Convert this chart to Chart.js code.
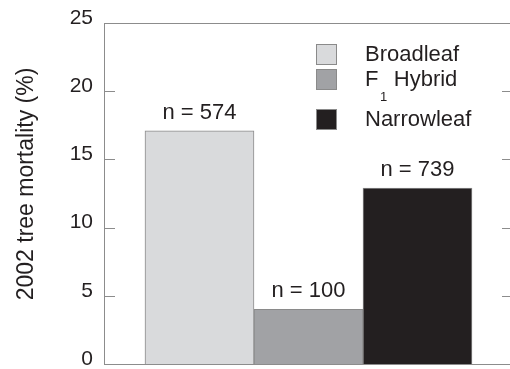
<!DOCTYPE html>
<html>
<head>
<meta charset="utf-8">
<script src="https://cdn.jsdelivr.net/npm/chart.js@4/dist/chart.umd.min.js"></script>
<style>
  html, body { margin: 0; padding: 0; background: #fff; overflow: hidden; }
  #wrap { width: 514px; height: 369px; position: relative; }
</style>
</head>
<body>
<div id="wrap"><canvas id="c"></canvas></div>
<script>
// Tree mortality in 2002 by cottonwood cross type
const categories = ['Broadleaf', 'F₁ Hybrid', 'Narrowleaf'];
const mortality = [17.1, 4.0, 12.9];          // percent of trees dead
const sampleSizes = [574, 100, 739];          // trees surveyed per type
const barColors = ['#d9dadc', '#a1a2a5', '#231f20'];
const yTickValues = [0, 5, 10, 15, 20, 25];
const yAxisTitle = '2002 tree mortality (%)';

const FONT = '"Liberation Sans", Arial, Helvetica, sans-serif';
const INK = '#231f20';
const FRAME = '#8c8c8c';

// One dataset per type so each gets its own legend row; bars share a linear x axis
const datasets = categories.map((name, i) => ({
  label: name,
  data: [{ x: i + 1, y: mortality[i] }],
  backgroundColor: barColors[i],
  borderColor: '#8a8a8a',
  borderWidth: 1,
  barPercentage: 1,
  categoryPercentage: 1,
  grouped: false
}));

// Draws a label, rendering a "₁" as a lowered small digit
function drawRichText(ctx, text, x, y) {
  const parts = text.split('₁');
  ctx.font = `22px ${FONT}`;
  ctx.textBaseline = 'middle';
  ctx.textAlign = 'left';
  ctx.fillText(parts[0], x, y);
  if (parts.length > 1) {
    const w = ctx.measureText(parts[0]).width;
    ctx.font = `13px ${FONT}`;
    ctx.fillText('1', x + w + 1.5, y + 17);
    const sw = ctx.measureText('1').width;
    ctx.font = `22px ${FONT}`;
    ctx.fillText(parts[1], x + w + sw + 2, y);
  }
}

// Box frame with inward tick marks on both vertical sides, plus the rotated axis title
const framePlugin = {
  id: 'frame',
  afterDatasetsDraw(chart) {
    const { ctx, chartArea: a } = chart;
    const yScale = chart.scales.y;
    ctx.save();
    ctx.strokeStyle = FRAME;
    ctx.lineWidth = 1;
    ctx.beginPath();
    ctx.rect(Math.round(a.left) + 0.5, Math.round(a.top) + 0.5,
             Math.round(a.right - a.left), Math.round(a.bottom - a.top));
    yScale.ticks.forEach(t => {
      const py = Math.round(yScale.getPixelForValue(t.value)) + 0.5;
      ctx.moveTo(a.left, py); ctx.lineTo(a.left + 11, py);
      ctx.moveTo(a.right - 10, py); ctx.lineTo(a.right, py);
    });
    ctx.stroke();

    ctx.translate(27, (a.top + a.bottom) / 2 - 9.5);
    ctx.rotate(-Math.PI / 2);
    ctx.fillStyle = INK;
    ctx.font = `23px ${FONT}`;
    ctx.textAlign = 'center';
    ctx.textBaseline = 'middle';
    ctx.fillText(yAxisTitle, 0, 0);
    ctx.restore();
  }
};

// "n = ..." above each bar
const sampleLabelPlugin = {
  id: 'sampleLabels',
  afterDatasetsDraw(chart) {
    const { ctx } = chart;
    ctx.save();
    ctx.fillStyle = INK;
    ctx.font = `22px ${FONT}`;
    ctx.textAlign = 'center';
    ctx.textBaseline = 'alphabetic';
    chart.data.datasets.forEach((ds, i) => {
      const bar = chart.getDatasetMeta(i).data[0];
      ctx.fillText('n = ' + sampleSizes[i], bar.x, bar.y - 12);
    });
    ctx.restore();
  }
};

// Legend drawn inside the plot's upper right
const legendPlugin = {
  id: 'boxLegend',
  afterDraw(chart) {
    const { ctx } = chart;
    ctx.save();
    let top = 44;
    chart.data.datasets.forEach(ds => {
      const size = 21;
      ctx.fillStyle = ds.backgroundColor;
      ctx.fillRect(316, top, size, size);
      ctx.strokeStyle = '#8a8a8a';
      ctx.lineWidth = 1;
      ctx.strokeRect(316.5, top + 0.5, size - 1, size - 1);
      ctx.fillStyle = INK;
      drawRichText(ctx, ds.label, 365, top + size / 2 + 0.5);
      top += 25 + (ds.label.includes('₁') ? 15 : 0);
    });
    ctx.restore();
  }
};

new Chart(document.getElementById('c'), {
  type: 'bar',
  data: { datasets },
  options: {
    responsive: true,
    maintainAspectRatio: false,
    animation: false,
    layout: { padding: { left: 0, top: 23, right: 2, bottom: 5 } },
    plugins: { legend: { display: false }, tooltip: { enabled: false } },
    scales: {
      x: {
        type: 'linear',
        offset: false,
        min: 0.124,
        max: 3.867,
        afterBuildTicks: s => { s.ticks = categories.map((_, i) => ({ value: i + 1 })); },
        ticks: { display: false },
        grid: { display: false, drawTicks: false, offset: false },
        border: { display: false }
      },
      y: {
        min: 0,
        max: 25,
        afterBuildTicks: s => { s.ticks = yTickValues.map(v => ({ value: v })); },
        ticks: {
          color: INK,
          font: { family: FONT, size: 21 },
          padding: 11,
          labelOffset: -5
        },
        grid: { display: false, drawTicks: false },
        border: { display: false },
        title: { display: false },
        afterFit: s => { s.width = 104; s.paddingTop = 0; s.paddingBottom = 0; }
      }
    }
  },
  plugins: [framePlugin, sampleLabelPlugin, legendPlugin]
});
</script>
</body>
</html>
